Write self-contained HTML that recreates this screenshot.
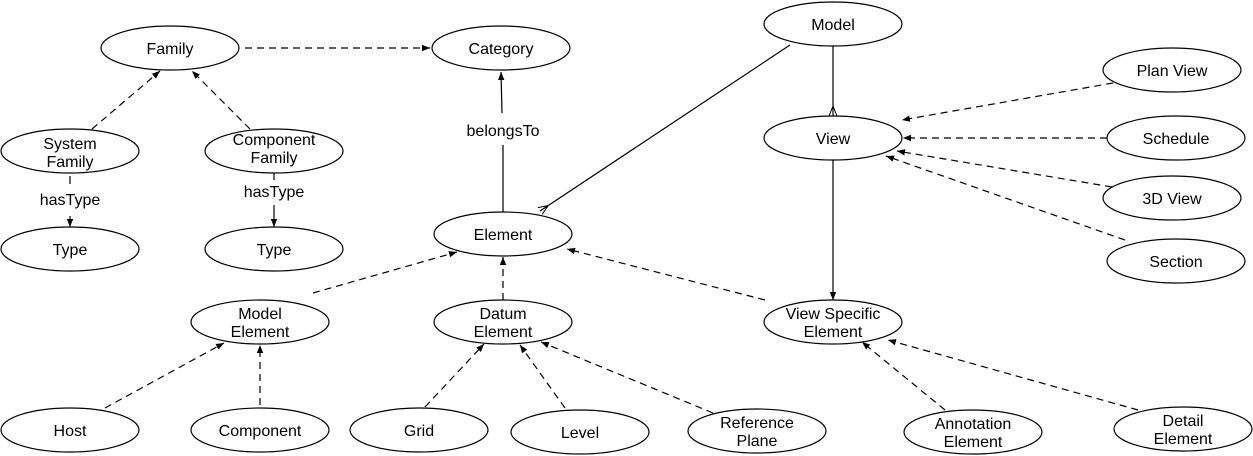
<!DOCTYPE html>
<html><head><meta charset="utf-8"><style>
html,body{margin:0;padding:0;background:#fff;}
svg{display:block;font-family:"Liberation Sans",Arial,sans-serif;font-size:16px;}
</style></head><body>
<svg width="1253" height="456" viewBox="0 0 1253 456" xmlns="http://www.w3.org/2000/svg">
<defs>
<marker id="a" viewBox="0 0 10 10" refX="10" refY="5" markerWidth="8" markerHeight="8" orient="auto-start-reverse" markerUnits="userSpaceOnUse"><path d="M0,1 L10,5 L0,9 z" fill="#000"/></marker>
<marker id="c" viewBox="0 0 10 10" refX="10" refY="5" markerWidth="10" markerHeight="10" orient="auto" markerUnits="userSpaceOnUse"><path d="M0,5 L10,1 M0,5 L10,5 M0,5 L10,9" stroke="#000" fill="none"/></marker>
</defs>
<g fill="none" stroke="#000" stroke-width="1.2">
<g stroke-dasharray="7,5" marker-end="url(#a)">
<line x1="245" y1="48" x2="430" y2="48"/>
<line x1="92" y1="129" x2="160" y2="71"/>
<line x1="250" y1="129" x2="192" y2="71"/>
<line x1="1113" y1="83" x2="902" y2="120"/>
<line x1="1107" y1="138" x2="903" y2="138"/>
<line x1="1112" y1="187" x2="897" y2="151"/>
<line x1="1125" y1="240" x2="886" y2="156"/>
<line x1="765" y1="300" x2="567" y2="249"/>
<line x1="313" y1="293" x2="457" y2="252"/>
<line x1="503" y1="300" x2="503" y2="257"/>
<line x1="105" y1="408" x2="224" y2="343"/>
<line x1="260" y1="405" x2="260" y2="345"/>
<line x1="425" y1="407" x2="484" y2="344"/>
<line x1="565" y1="408" x2="520" y2="345"/>
<line x1="713" y1="413" x2="541" y2="342"/>
<line x1="945" y1="410" x2="862" y2="342"/>
<line x1="1138" y1="410" x2="888" y2="340"/>
</g>
<line x1="70" y1="176" x2="70" y2="184"/>
<line x1="70" y1="216" x2="70" y2="227" marker-end="url(#a)"/>
<line x1="274" y1="173" x2="274" y2="180"/>
<line x1="274" y1="205" x2="274" y2="227" marker-end="url(#a)"/>
<line x1="503" y1="212" x2="503" y2="145"/>
<line x1="502" y1="113" x2="501" y2="72" marker-end="url(#a)"/>
<line x1="790" y1="45" x2="540" y2="211" marker-end="url(#c)"/>
<line x1="833" y1="46" x2="833" y2="116" marker-end="url(#c)"/>
<line x1="833" y1="160" x2="833" y2="300" marker-end="url(#a)"/>
</g>
<g fill="#fff" stroke="#000" stroke-width="1.2">
<ellipse cx="170" cy="48" rx="69" ry="22"/>
<ellipse cx="501" cy="48" rx="69" ry="22"/>
<ellipse cx="833" cy="24" rx="69" ry="22"/>
<ellipse cx="1172" cy="70" rx="69" ry="22"/>
<ellipse cx="833" cy="138" rx="69" ry="22"/>
<ellipse cx="1176" cy="138" rx="69" ry="22"/>
<ellipse cx="1172" cy="198" rx="69" ry="22"/>
<ellipse cx="1176" cy="261" rx="69" ry="22"/>
<ellipse cx="70" cy="151" rx="69" ry="22"/>
<ellipse cx="274" cy="151" rx="69" ry="22"/>
<ellipse cx="70" cy="249" rx="69" ry="22"/>
<ellipse cx="274" cy="249" rx="69" ry="22"/>
<ellipse cx="503" cy="234" rx="69" ry="22"/>
<ellipse cx="260" cy="322" rx="69" ry="22"/>
<ellipse cx="503" cy="322" rx="69" ry="22"/>
<ellipse cx="833" cy="322" rx="69" ry="22"/>
<ellipse cx="70" cy="430" rx="69" ry="22"/>
<ellipse cx="260" cy="430" rx="69" ry="22"/>
<ellipse cx="419" cy="430" rx="69" ry="22"/>
<ellipse cx="580" cy="432" rx="69" ry="22"/>
<ellipse cx="757" cy="431" rx="69" ry="22"/>
<ellipse cx="973" cy="432" rx="69" ry="22"/>
<ellipse cx="1183" cy="429" rx="69" ry="22"/>
</g>
<g text-anchor="middle" fill="#000">
<text x="170" y="54">Family</text>
<text x="501" y="54">Category</text>
<text x="833" y="30">Model</text>
<text x="1172" y="76">Plan View</text>
<text x="833" y="144">View</text>
<text x="1176" y="144">Schedule</text>
<text x="1172" y="204">3D View</text>
<text x="1176" y="267">Section</text>
<text x="70" y="149">System</text><text x="70" y="167">Family</text>
<text x="274" y="145">Component</text><text x="274" y="163">Family</text>
<text x="70" y="255">Type</text>
<text x="274" y="255">Type</text>
<text x="70" y="205">hasType</text>
<text x="274" y="197">hasType</text>
<text x="503" y="136">belongsTo</text>
<text x="503" y="240">Element</text>
<text x="260" y="319">Model</text><text x="260" y="337">Element</text>
<text x="503" y="319">Datum</text><text x="503" y="337">Element</text>
<text x="833" y="319">View Specific</text><text x="833" y="337">Element</text>
<text x="70" y="436">Host</text>
<text x="260" y="436">Component</text>
<text x="419" y="436">Grid</text>
<text x="580" y="438">Level</text>
<text x="757" y="428">Reference</text><text x="757" y="446">Plane</text>
<text x="973" y="429">Annotation</text><text x="973" y="447">Element</text>
<text x="1183" y="426">Detail</text><text x="1183" y="444">Element</text>
</g>
</svg>
</body></html>
